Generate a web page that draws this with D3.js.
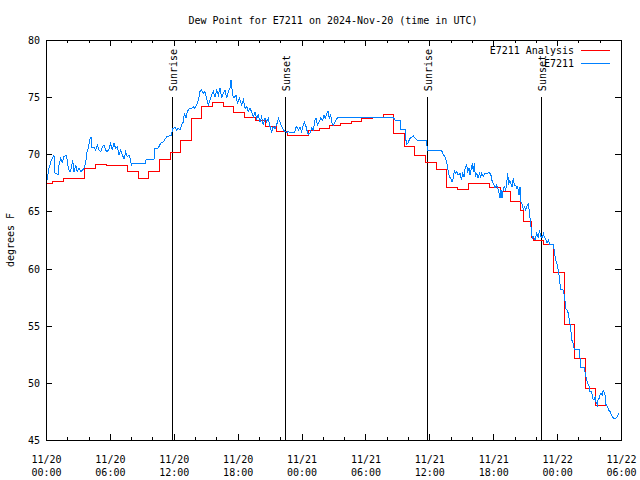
<!DOCTYPE html>
<html><head><meta charset="utf-8">
<script src="https://cdn.jsdelivr.net/npm/d3@7"></script>
<style>
body{margin:0;background:#fff}
svg text{font-family:"DejaVu Sans Mono",monospace;font-size:10px;fill:#000}
</style>
</head><body><svg id="c" width="640" height="480"></svg>
<script>
const title = "Dew Point for E7211 on 2024-Nov-20 (time in UTC)";
const yLabel = "degrees F";
const startTime = "2024-11-20T00:00:00Z";
const endTime = "2024-11-22T06:00:00Z";
const yTicks = [45, 50, 55, 60, 65, 70, 75, 80];
const seriesNames = ["E7211 Analysis", "E7211"];
const sunLabels = ["Sunrise", "Sunset", "Sunrise", "Sunset"];
const sunTimes = ["2024-11-20T11:48:00Z", "2024-11-20T22:28:00Z", "2024-11-21T11:49:00Z", "2024-11-21T22:27:00Z"];

// hours after start
const analysisHours = [0,0.65,1.65,3.65,4.65,5.65,6.65,7.65,8.65,9.65,10.65,11.65,12.65,13.65,14.65,15.65,16.65,17.65,18.65,19.65,20.65,21.65,22.65,24.65,25.65,26.65,27.65,28.65,29.65,30.65,31.65,32.65,33.65,34.65,35.65,36.65,37.65,38.65,39.65,41.65,42.65,43.65,44.6,44.8,45.6,45.75,46.7,47.65,48.65,48.7,49.65,50.65,51.65,52.65];
const analysisValues = [67.46,67.66,67.9,68.77,69.1,69.03,69.0,68.5,67.9,68.5,69.56,70.2,71.25,73.14,74.2,74.5,74.2,73.7,73.2,73.0,72.47,72.03,71.68,72.1,72.3,72.5,72.7,72.9,73.1,73.25,73.45,71.8,70.72,69.93,69.29,68.68,67.1,66.93,67.46,67.1,66.75,65.9,65.05,64.16,62.73,62.5,62.12,59.67,57.5,55.12,52.15,49.52,48.06,48.06];

const obsHours = [0,0.06,0.28,0.5,0.75,0.85,1.13,1.22,1.38,1.53,1.69,1.88,2.0,2.1,2.25,2.38,2.5,2.63,2.79,2.94,3.1,3.26,3.41,3.57,3.72,3.82,3.97,4.1,4.23,4.32,4.51,4.66,4.82,4.98,5.13,5.29,5.45,5.6,5.76,5.92,6.07,6.23,6.39,6.54,6.7,6.86,7.01,7.17,7.33,7.48,7.64,7.8,7.95,8.01,8.05,9.36,9.4,10.14,10.2,10.5,10.77,11.02,11.33,11.8,11.87,12.12,12.27,12.43,12.58,12.74,12.9,12.99,13.15,13.27,13.46,13.68,13.84,13.99,14.15,14.31,14.46,14.62,14.77,14.93,15.09,15.25,15.4,15.56,15.72,15.87,16.03,16.19,16.34,16.5,16.65,16.81,16.97,17.12,17.28,17.37,17.53,17.66,17.84,17.97,18.16,18.37,18.53,18.69,18.85,19.0,19.16,19.31,19.47,19.63,19.78,19.94,20.1,20.25,20.41,20.57,20.72,20.88,21.04,21.19,21.35,21.51,21.66,21.82,21.98,22.13,22.29,22.45,22.6,22.76,22.92,23.38,23.4,23.54,23.7,23.85,24.01,24.17,24.26,24.42,24.54,24.64,24.79,24.95,25.11,25.26,25.36,25.48,25.67,25.8,25.98,26.11,26.23,26.36,26.48,26.61,26.74,26.86,26.99,27.15,27.3,27.45,32.62,32.78,33.31,33.33,33.72,33.75,33.87,33.97,34.19,34.5,34.81,35.75,35.81,37.16,37.32,37.47,37.63,37.72,37.88,38.0,38.13,38.25,38.35,38.47,38.57,38.72,38.88,39.01,39.13,39.26,39.38,39.51,39.6,39.73,39.82,39.92,40.04,40.13,40.23,40.32,40.45,40.57,40.7,40.82,40.92,41.07,41.23,41.39,41.55,41.76,41.86,42.01,42.17,42.33,42.48,42.64,42.73,42.83,42.95,43.04,43.17,43.26,43.36,43.45,43.55,43.64,43.77,43.89,43.98,44.11,44.2,44.3,44.42,44.51,44.61,44.73,44.83,44.92,45.05,45.14,45.3,45.39,45.49,45.58,45.67,45.77,45.93,46.08,46.24,46.33,46.46,46.58,46.71,46.8,46.96,47.05,47.18,47.3,47.65,47.74,47.83,47.96,48.05,48.15,48.24,48.3,48.52,48.68,48.77,48.83,48.99,49.08,49.21,49.3,49.37,49.46,49.53,49.62,50.12,50.15,50.2,50.6,50.62,50.78,50.94,51.03,51.09,51.25,51.34,51.47,51.56,51.65,51.78,51.87,51.97,52.03,52.12,52.25,52.34,52.44,52.5,52.59,52.72,52.84,52.97,53.09,53.22,53.35,53.53,53.66,53.79];
const obsValues = [67.5,67.6,68.77,69.5,69.93,68.3,68.25,69.06,69.64,69.3,69.8,69.93,69.5,68.77,68.48,68.77,69.5,68.48,69.06,68.48,68.77,68.48,68.6,68.77,69.2,70.08,70.5,71.25,71.53,70.6,70.6,70.37,70.8,70.37,70.22,70.66,70.8,70.37,70.22,70.5,70.95,70.37,70.95,70.5,70.66,69.93,70.37,69.93,69.6,70.22,69.78,69.93,69.5,69.0,69.2,69.2,69.55,69.55,70.5,70.5,70.95,71.1,71.53,71.69,72.27,72.33,72.13,72.27,72.13,72.56,72.85,73.58,73.15,73.73,74.02,74.02,74.17,74.02,74.31,74.75,75.48,75.63,75.33,75.48,74.9,74.31,74.75,75.19,75.48,75.04,75.63,75.19,75.77,74.9,75.33,75.63,74.9,75.48,75.77,76.5,75.19,74.9,75.19,74.46,74.9,74.31,74.75,74.02,74.17,73.73,74.02,73.73,73.29,73.73,73.15,73.44,72.85,73.29,72.56,73.15,72.85,73.15,72.42,71.98,72.42,72.27,72.56,73.15,72.85,72.42,72.13,71.98,71.92,71.98,71.89,71.89,72.27,72.42,72.13,72.35,71.98,72.56,72.8,72.42,71.98,71.75,71.85,72.27,72.13,73.0,73.15,72.56,72.85,73.15,73.0,73.44,73.15,73.58,73.79,73.15,73.44,72.71,72.56,72.85,73.15,73.2,73.2,73.0,73.0,72.13,72.13,71.54,70.87,70.95,71.4,71.6,71.25,71.19,70.32,70.32,69.94,69.79,69.35,68.77,68.04,67.9,67.6,67.9,68.62,68.33,68.48,68.19,68.33,67.75,68.33,68.04,68.92,69.06,68.48,68.77,68.19,68.62,69.21,68.48,69.21,68.04,68.33,67.9,68.33,68.04,68.33,68.04,68.33,68.28,68.39,68.33,67.75,67.46,67.02,67.31,66.88,66.15,66.88,66.15,67.02,67.17,66.88,67.46,68.33,67.31,67.75,67.46,67.17,67.9,67.31,67.31,67.02,67.17,66.44,67.17,65.85,65.56,65.13,65.42,65.13,65.42,65.65,64.98,64.1,63.38,62.65,62.79,62.5,63.08,62.65,63.38,62.85,62.65,63.08,62.79,62.5,62.21,62.5,62.15,62.15,61.48,60.9,60.46,60.2,59.58,59.15,58.2,58.2,57.69,56.96,56.46,56.3,55.94,55.12,54.48,53.75,53.6,53.31,52.88,52.88,52.15,51.36,51.36,50.98,50.25,49.81,49.7,49.23,49.23,48.65,48.5,48.8,48.35,48.06,48.65,48.65,48.94,49.09,48.94,49.38,49.09,48.94,48.12,47.91,47.63,47.48,47.19,46.98,46.9,46.9,47.04,47.33];

const colors = ["#ff0000", "#0080ff"];
const svg = d3.select("#c");
const L = 46, R = 621, T = 40, B = 440;
const t0 = new Date(startTime);
const toDate = h => new Date(t0.getTime() + h * 3600000);
const x = d3.scaleUtc().domain([t0, new Date(endTime)]).range([L, R]);
const y = d3.scaleLinear().domain([45, 80]).range([B, T]);

svg.append("rect").attr("width", 640).attr("height", 480).attr("fill", "#fff");

// title
svg.append("text").attr("x", 333).attr("y", 24).attr("text-anchor", "middle").text(title);
// y label
svg.append("text").attr("transform", "translate(14,240) rotate(-90)").attr("text-anchor", "middle").text(yLabel);

const major = d3.utcHour.every(6).range(t0, new Date(x.domain()[1].getTime() + 1));
const minor = d3.utcHour.every(2).range(t0, new Date(x.domain()[1].getTime() + 1)).filter(d => d.getUTCHours() % 6 !== 0);

function tickGroup(axis, tr) {
  const g = svg.append("g").attr("transform", tr).call(axis);
  g.select(".domain").remove();
  g.selectAll("line").attr("stroke", "#000").attr("shape-rendering", "crispEdges");
  return g;
}
// x ticks bottom and top (inward)
tickGroup(d3.axisBottom(x).tickValues(minor).tickSize(-3).tickFormat(""), `translate(0,${B})`);
tickGroup(d3.axisTop(x).tickValues(minor).tickSize(-3).tickFormat(""), `translate(0,${T})`);
tickGroup(d3.axisTop(x).tickValues(major).tickSize(-6).tickFormat(""), `translate(0,${T})`);
const fmtDay = d3.utcFormat("%m/%d"), fmtTime = d3.utcFormat("%H:%M");
const gx = tickGroup(d3.axisBottom(x).tickValues(major).tickSize(-6).tickPadding(0).tickFormat(""), `translate(0,${B})`);
gx.selectAll(".tick").each(function(d) {
  const t = d3.select(this).append("text").attr("text-anchor", "middle").attr("fill", "#000");
  t.append("tspan").attr("x", 0).attr("y", 23).text(fmtDay(d));
  t.append("tspan").attr("x", 0).attr("y", 36).text(fmtTime(d));
});

// y ticks
const gy = tickGroup(d3.axisLeft(y).tickValues(yTicks).tickSize(-6).tickPadding(12).tickFormat(d3.format("d")), `translate(${L},0)`);
gy.selectAll("text").attr("font-family", null).attr("font-size", null).attr("x", -6).attr("dy", "0.35em");
tickGroup(d3.axisRight(y).tickValues(yTicks).tickSize(-6).tickFormat(""), `translate(${R},0)`);

// sunrise/sunset
sunTimes.forEach((s, i) => {
  const sx = Math.round(x(new Date(s))) + 0.5;
  svg.append("line").attr("x1", sx).attr("x2", sx).attr("y1", y(75)).attr("y2", B)
    .attr("stroke", "#000").attr("stroke-width", 1).attr("shape-rendering", "crispEdges");
  svg.append("text").attr("transform", `translate(${sx + 4},${y(75) - 6}) rotate(-90)`)
    .attr("text-anchor", "start").text(sunLabels[i]);
});

// series
const redData = analysisHours.map((h, i) => [toDate(h), analysisValues[i]]);
const blueData = obsHours.map((h, i) => [toDate(h), obsValues[i]]);
svg.append("path").datum(redData)
  .attr("d", d3.line().x(d => x(d[0])).y(d => y(d[1])).curve(d3.curveStepAfter))
  .attr("fill", "none").attr("stroke", colors[0]).attr("stroke-width", 1)
  .attr("shape-rendering", "crispEdges");
svg.append("path").datum(blueData)
  .attr("d", d3.line().x(d => x(d[0])).y(d => y(d[1])))
  .attr("fill", "none").attr("stroke", colors[1]).attr("stroke-width", 1)
  .attr("shape-rendering", "crispEdges");

// border
svg.append("rect").attr("x", L + 0.5).attr("y", T + 0.5).attr("width", R - L).attr("height", B - T)
  .attr("fill", "none").attr("stroke", "#000").attr("shape-rendering", "crispEdges");

// legend
seriesNames.forEach((n, i) => {
  const ly = 50 + i * 13;
  svg.append("text").attr("x", 574).attr("y", ly).attr("dy", "0.35em").attr("text-anchor", "end").text(n);
  svg.append("line").attr("x1", 581).attr("x2", 610).attr("y1", ly + 0.5).attr("y2", ly + 0.5)
    .attr("stroke", colors[i]).attr("stroke-width", 1).attr("shape-rendering", "crispEdges");
});
</script>
</body></html>
